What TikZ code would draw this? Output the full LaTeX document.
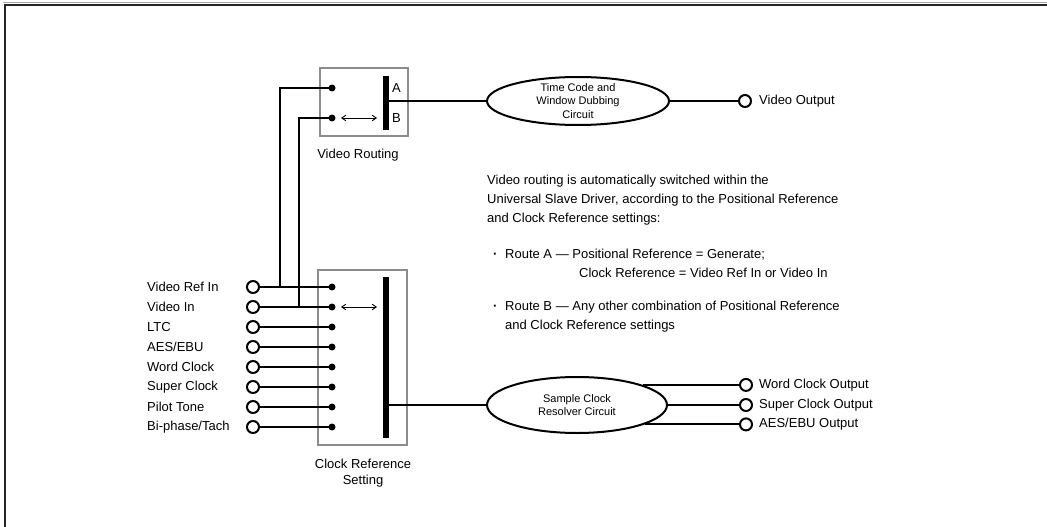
\documentclass[tikz,border=0pt]{standalone}
\usepackage{fontspec}
\setmainfont{Liberation Sans}
\usetikzlibrary{shapes.geometric,arrows.meta}
\begin{document}
\begin{tikzpicture}[x=1pt,y=-1pt,
 wire/.style={line width=2pt},
 frame/.style={draw=black!45,line width=1.3pt,inner sep=0},
 swbar/.style={fill=black,inner sep=0,minimum width=6pt},
 dot/.style={circle,fill=black,inner sep=0,minimum size=7pt},
 port/.style={circle,draw=black,line width=2pt,fill=white,inner sep=0,minimum size=12pt},
 lbl/.style={inner sep=0,font=\fontsize{13}{16}\selectfont},
 etext/.style={inner sep=0,align=center,font=\fontsize{11}{13.5}\selectfont},
 circ/.style={ellipse,draw=black,line width=2pt,inner sep=0},
 dbl/.style={line width=0.9pt,{Straight Barb[length=4pt,width=5.5pt]}-{Straight Barb[length=4pt,width=5.5pt]}},
 body/.style={inner sep=0,anchor=base west,font=\fontsize{13}{16}\selectfont}
]
\useasboundingbox (0,0) rectangle (1047,527);
% page frame
\draw[black!35,line width=1pt] (3,3) -- (1047,3);
\draw[black!85,line width=2pt] (5,527) -- (5,5) -- (1047,5);

% Video routing switch
\node[frame,minimum width=88pt,minimum height=68pt] (vr) at (364,102) {};
\node[swbar,minimum height=54pt] (vrbar) at (385.5,103) {};
\node[dot] (dA) at (332,88) {};
\node[dot] (dB) at (332,118) {};
\node[lbl] (lA) at (396.5,88) {A};
\node[lbl] (lB) at (396.5,118) {B};
\coordinate (aB1) at (341,118);
\coordinate (aB2) at (377,118);
\draw[dbl] (aB1) -- (aB2);
\node[lbl] (vrl) at (358,155) {Video Routing};

% Time code ellipse
\node[circ,minimum width=182pt,minimum height=48pt] (tc) at (578,101) {};
\node[etext] (tct) at (tc.center) {Time Code and\\Window Dubbing\\Circuit};
\node[port] (vo) at (745,101) {};
\node[lbl,anchor=west] (vol) at (759,101) {Video Output};
\draw[wire] (vrbar.east |- tc.west) -- (tc.west);
\draw[wire] (tc.east) -- (vo.west);

% Clock reference switch
\node[frame,minimum width=89pt,minimum height=175pt] (cr) at (362.5,357.5) {};
\node[swbar,minimum height=161pt] (crbar) at (385.5,357.5) {};
\foreach \i/\t in {0/Video Ref In,1/Video In,2/LTC,3/AES\slash EBU,4/Word Clock,5/Super Clock,6/Pilot Tone,7/Bi-phase\slash Tach}{
  \node[dot] (d\i) at (332,{287+20*\i}) {};
  \node[port] (in\i) at (253,{287+20*\i}) {};
  \node[lbl,anchor=west] (il\i) at (147,{287+20*\i}) {\t};
  \draw[wire] (in\i.east) -- (d\i.center);
}
\coordinate (aC1) at (341,307);
\coordinate (aC2) at (377,307);
\draw[dbl] (aC1) -- (aC2);
\node[lbl,align=center] (crl) at (363,473) {Clock Reference\\Setting};

% routing wires
\coordinate (j0) at (280,287);
\coordinate (j1) at (299,307);
\draw[wire] (dA.center) -| (j0);
\draw[wire] (dB.center) -| (j1);

% Sample clock ellipse
\node[circ,minimum width=180pt,minimum height=56pt] (sr) at (577,405) {};
\node[etext] (srt) at (sr.center) {Sample Clock\\Resolver Circuit};
\draw[wire] (crbar.east |- sr.west) -- (sr.west);
\coordinate (ox) at (746,0);
\node[port] (wo) at (sr.17.5 -| ox) {};
\node[port] (so) at (sr.east -| ox) {};
\node[port] (ao) at (sr.-16.5 -| ox) {};
\draw[wire] (sr.17.5) -- (wo.west);
\draw[wire] (sr.east) -- (so.west);
\draw[wire] (sr.-16.5) -- (ao.west);
\node[lbl,anchor=west] (wol) at (759,385) {Word Clock Output};
\node[lbl,anchor=west] (sol) at (759,405) {Super Clock Output};
\node[lbl,anchor=west] (aol) at (759,424) {AES/EBU Output};

% explanatory text
\node[body] (t1) at (487,184) {Video routing is automatically switched within the};
\node[body] (t2) at (487,203) {Universal Slave Driver, according to the Positional Reference};
\node[body] (t3) at (487,222) {and Clock Reference settings:};
\node[body] (b1) at (493,258) {\bfseries ·};
\node[body] (r1) at (505,258) {Route A — Positional Reference = Generate;};
\node[body] (r1b) at (579,277) {Clock Reference = Video Ref In or Video In};
\node[body] (b2) at (493,310) {\bfseries ·};
\node[body] (r2) at (505,310) {Route B — Any other combination of Positional Reference};
\node[body] (r2b) at (505,329) {and Clock Reference settings};
\end{tikzpicture}
\end{document}
